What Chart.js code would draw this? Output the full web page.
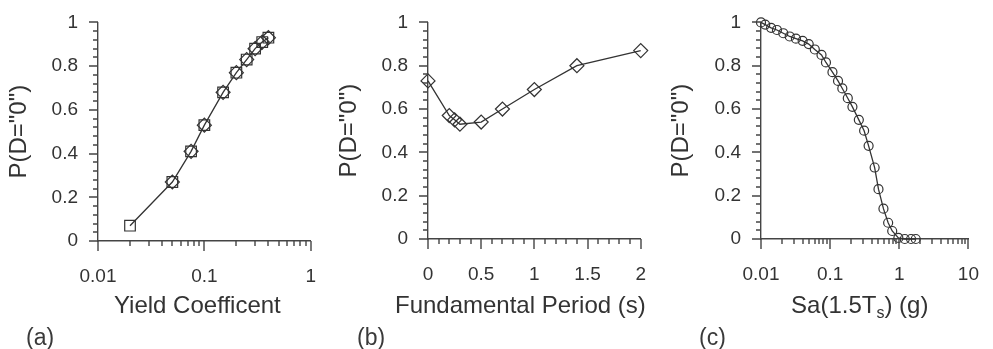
<!DOCTYPE html>
<html>
<head>
<meta charset="utf-8">
<script src="https://cdn.jsdelivr.net/npm/chart.js@4.4.1/dist/chart.umd.min.js"></script>
<style>
  body { margin: 0; background: #fff; width: 993px; height: 349px; overflow: hidden; position: relative; font-family: "Liberation Sans", Arial, sans-serif; }
  .panel { position: absolute; top: 0; height: 349px; }
  .tag { position: absolute; top: 325px; font-size: 23px; line-height: 24px; color: #3a3a3a; }
</style>
</head>
<body>
<div class="panel" style="left:0;width:330px"><canvas id="chartA" width="330" height="349"></canvas></div>
<div class="panel" style="left:330px;width:330px"><canvas id="chartB" width="330" height="349"></canvas></div>
<div class="panel" style="left:660px;width:333px"><canvas id="chartC" width="333" height="349"></canvas></div>
<div class="tag" style="left:26px">(a)</div>
<div class="tag" style="left:357px">(b)</div>
<div class="tag" style="left:699px">(c)</div>

<script>
// ---------- data ----------
const yLabel = 'P(D="0")';

// (a) yield coefficient
const yieldX = [0.02, 0.05, 0.075, 0.1, 0.15, 0.2, 0.25, 0.3, 0.35, 0.4];
const yieldP = [0.07, 0.27, 0.41, 0.53, 0.68, 0.77, 0.83, 0.88, 0.91, 0.93];
const yieldX2 = [0.05, 0.075, 0.1, 0.15, 0.2, 0.25, 0.3, 0.35, 0.4];
const yieldP2 = [0.27, 0.41, 0.53, 0.68, 0.77, 0.83, 0.88, 0.91, 0.93];
const yieldTicks = [0.01, 0.1, 1];

// (b) fundamental period
const periodX = [0, 0.2, 0.25, 0.3, 0.5, 0.7, 1.0, 1.4, 2.0];
const periodP = [0.73, 0.57, 0.55, 0.53, 0.54, 0.60, 0.69, 0.80, 0.87];
const periodTicks = [0, 0.5, 1, 1.5, 2];

// (c) Sa(1.5Ts)
const saX = [0.010, 0.0115, 0.014, 0.017, 0.021, 0.026, 0.032, 0.040, 0.049, 0.060,
             0.075, 0.087, 0.108, 0.13, 0.15, 0.18, 0.21, 0.26, 0.31, 0.36,
             0.44, 0.50, 0.59, 0.69, 0.79, 0.97, 1.2, 1.48, 1.73];
const saP = [1.0, 0.99, 0.975, 0.965, 0.95, 0.935, 0.925, 0.915, 0.90, 0.875,
             0.85, 0.815, 0.77, 0.73, 0.695, 0.65, 0.61, 0.55, 0.50, 0.43,
             0.33, 0.23, 0.14, 0.075, 0.037, 0.005, 0, 0, 0];
const saTicks = [0.01, 0.1, 1, 10];

const pTicks = [0, 0.2, 0.4, 0.6, 0.8, 1];

// ---------- style ----------
const ink = '#333';
const axisInk = '#444';
const FONT = '"Liberation Sans", Arial, sans-serif';

const toPts = (xs, ys) => xs.map((x, i) => ({ x: x, y: ys[i] }));

function logMinor(lo, hi) {
  const out = [];
  for (let d = lo; d < hi * 0.999; d *= 10) {
    for (let k = 2; k <= 9; k++) out.push(d * k);
  }
  return out;
}
function linMinor(lo, hi, step) {
  const out = [];
  const n = Math.round((hi - lo) / step);
  for (let i = 1; i < n; i++) out.push(lo + i * step);
  return out;
}

// tick marks (major + minor) drawn outside both axes
const tickMarks = {
  id: 'tickMarks',
  afterDraw(chart) {
    const t = chart.config.options.tickSet;
    const { ctx, chartArea: { left, bottom }, scales } = chart;
    const sx = scales.x, sy = scales.y;
    ctx.save();
    ctx.strokeStyle = axisInk;
    ctx.lineWidth = 1.4;
    ctx.beginPath();
    const xs = (vals, len) => vals.forEach(v => {
      const px = Math.round(sx.getPixelForValue(v));
      ctx.moveTo(px, bottom);
      ctx.lineTo(px, bottom + len);
    });
    const ys = (vals, len) => vals.forEach(v => {
      const py = Math.round(sy.getPixelForValue(v));
      ctx.moveTo(left, py);
      ctx.lineTo(left - len, py);
    });
    xs(t.majX, 10); xs(t.minX, 5);
    ys(t.majY, 9); ys(t.minY, 5);
    ctx.stroke();
    ctx.restore();
  }
};

// x title with optional subscript pieces
const xTitle = {
  id: 'xTitle',
  afterDraw(chart, args, opts) {
    const { ctx, chartArea: { left, right } } = chart;
    const big = '24px ' + FONT;
    const small = '16px ' + FONT;
    ctx.save();
    ctx.fillStyle = ink;
    ctx.textBaseline = 'alphabetic';
    ctx.textAlign = 'left';
    let w = 0;
    opts.parts.forEach(p => {
      ctx.font = p.sub ? small : big;
      w += ctx.measureText(p.t).width;
    });
    let cx = (left + right) / 2 + opts.shift - w / 2;
    opts.parts.forEach(p => {
      ctx.font = p.sub ? small : big;
      ctx.fillText(p.t, cx, p.sub ? opts.base + 5 : opts.base);
      cx += ctx.measureText(p.t).width;
    });
    ctx.restore();
  }
};

function makeChart(id, cfg) {
  const xScale = {
    type: cfg.xType,
    min: cfg.xMin,
    max: cfg.xMax,
    afterBuildTicks: s => { s.ticks = cfg.xTicks.map(v => ({ value: v })); },
    afterFit: s => { s.height = 349 - 30 - cfg.bottom; },
    border: { display: true, color: axisInk, width: 1.4 },
    grid: { display: false, drawTicks: true, tickLength: 10 },
    ticks: {
      color: ink,
      font: { family: FONT, size: 19 },
      padding: 14,
      maxRotation: 0,
      autoSkip: false,
      callback: v => String(v)
    }
  };
  const yScale = {
    type: 'linear',
    min: 0,
    max: 1,
    afterBuildTicks: s => { s.ticks = pTicks.map(v => ({ value: v })); },
    afterFit: s => { s.width = cfg.left; },
    border: { display: true, color: axisInk, width: 1.4 },
    grid: { display: false, drawTicks: true, tickLength: 9 },
    ticks: {
      color: ink,
      font: { family: FONT, size: 19 },
      padding: 11,
      callback: v => String(v)
    },
    title: {
      display: true,
      text: yLabel,
      color: ink,
      font: { family: FONT, size: 24 },
      padding: { top: cfg.yTitlePad, bottom: 0 }
    }
  };
  return new Chart(document.getElementById(id), {
    type: 'line',
    data: { datasets: cfg.datasets },
    options: {
      responsive: false,
      animation: false,
      tickSet: { majX: cfg.xTicks, minX: cfg.xMinor, majY: pTicks, minY: linMinor(0, 1, 0.04) },
      layout: { padding: { left: 0, right: cfg.right, top: cfg.top, bottom: 30 } },
      scales: { x: xScale, y: yScale },
      plugins: {
        legend: { display: false },
        tooltip: { enabled: false },
        xTitle: { parts: cfg.title, shift: cfg.titleShift, base: 313 }
      }
    },
    plugins: [tickMarks, xTitle]
  });
}

function series(pts, style, radius) {
  return {
    data: pts,
    showLine: true,
    clip: false,
    borderColor: ink,
    borderWidth: 1.3,
    pointStyle: style,
    pointRadius: radius,
    pointBorderColor: ink,
    pointBorderWidth: 1.2,
    pointBackgroundColor: 'rgba(0,0,0,0)',
    tension: 0
  };
}

makeChart('chartA', {
  xType: 'logarithmic', xMin: 0.01, xMax: 1, xTicks: yieldTicks,
  xMinor: logMinor(0.01, 1),
  left: 98, right: 10, top: 20, bottom: 241, yTitlePad: 5,
  title: [{ t: 'Yield Coefficent' }], titleShift: -7,
  datasets: [
    series(toPts(yieldX, yieldP), 'rect', 7.5),
    Object.assign(series(toPts(yieldX2, yieldP2), 'rectRot', 7), { showLine: false })
  ]
});

makeChart('chartB', {
  xType: 'linear', xMin: 0, xMax: 2, xTicks: periodTicks,
  xMinor: linMinor(0, 2, 0.1).filter(v => Math.abs(v * 2 - Math.round(v * 2)) > 1e-6),
  left: 98, right: 12, top: 18, bottom: 239, yTitlePad: 5,
  title: [{ t: 'Fundamental Period (s)' }], titleShift: -14,
  datasets: [series(toPts(periodX, periodP), 'rectRot', 7)]
});

makeChart('chartC', {
  xType: 'logarithmic', xMin: 0.01, xMax: 10, xTicks: saTicks,
  xMinor: logMinor(0.01, 10),
  left: 101, right: 12, top: 17, bottom: 239, yTitlePad: 7,
  title: [{ t: 'Sa(1.5T' }, { t: 's', sub: true }, { t: ') (g)' }], titleShift: -5,
  datasets: [series(toPts(saX, saP), 'circle', 4.5)]
});
</script>
</body>
</html>
